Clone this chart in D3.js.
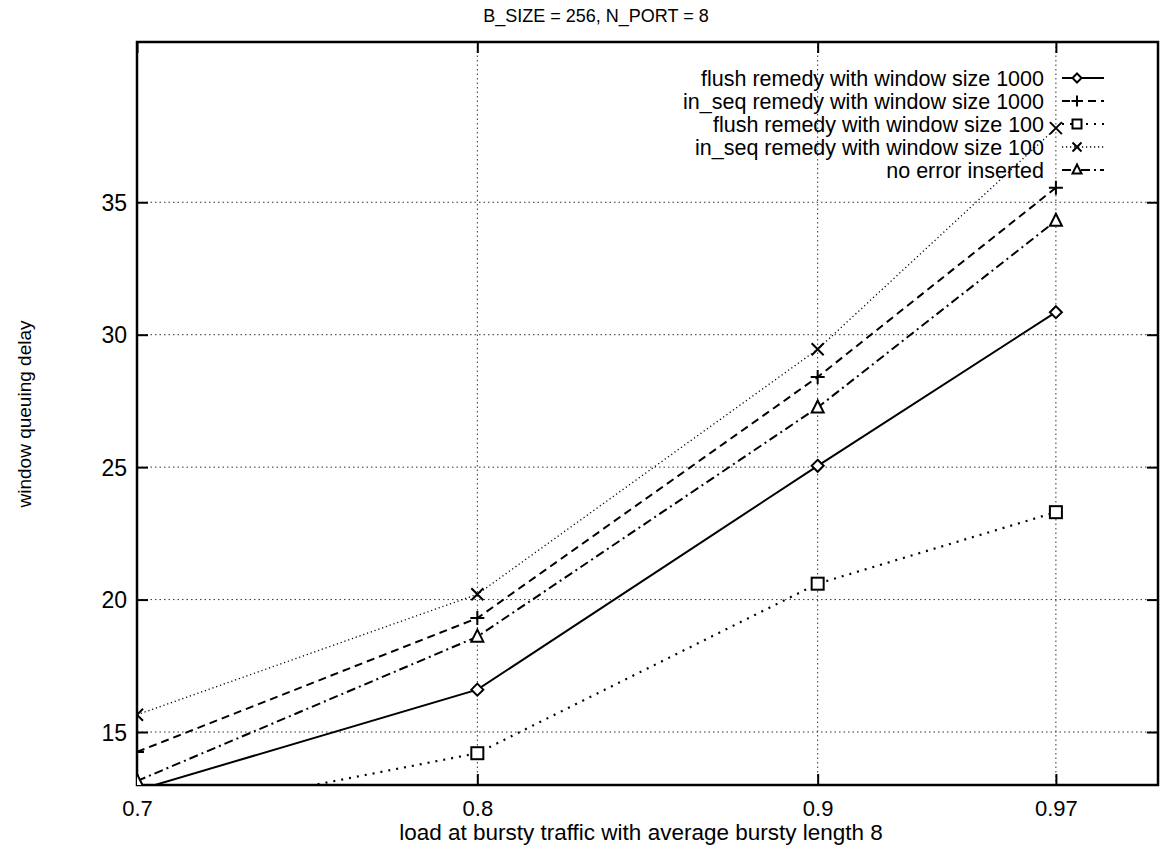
<!DOCTYPE html>
<html>
<head>
<meta charset="utf-8">
<script src="https://cdn.jsdelivr.net/npm/d3@7"></script>
<style>
  body { margin: 0; background: #fff; }
  text { font-family: "Liberation Sans", Arial, Helvetica, sans-serif; fill: #000; }
</style>
</head>
<body>
<svg id="chart" width="1160" height="852"></svg>
<script>
// load values on the x axis
const LOADS = [0.7, 0.8, 0.9, 0.97];
const X_TICKS = [0.7, 0.8, 0.9, 0.97];
const Y_TICKS = [15, 20, 25, 30, 35];

// window queuing delay, one array per curve
const FLUSH_1000 = [12.8, 16.6, 25.05, 30.85];
const INSEQ_1000 = [14.25, 19.3, 28.4, 35.55];
const FLUSH_100  = [11.7, 14.2, 20.6, 23.3];
const INSEQ_100  = [15.65, 20.2, 29.45, 37.8];
const NO_ERROR   = [13.15, 18.6, 27.25, 34.3];

const SERIES_NAMES = [
  "flush remedy with window size 1000",
  "in_seq remedy with window size 1000",
  "flush remedy with window size 100",
  "in_seq remedy with window size 100",
  "no error inserted"
];

const series = [
  { name: SERIES_NAMES[0], values: FLUSH_1000, dash: null,        width: 2,   mark: "diamond" },
  { name: SERIES_NAMES[1], values: INSEQ_1000, dash: "8,5",       width: 2,   mark: "plus" },
  { name: SERIES_NAMES[2], values: FLUSH_100,  dash: "2,6",       width: 2.2, mark: "square" },
  { name: SERIES_NAMES[3], values: INSEQ_100,  dash: "1.2,2.8",   width: 1.3, mark: "cross" },
  { name: SERIES_NAMES[4], values: NO_ERROR,   dash: "9,4,2,4",   width: 2,   mark: "triangle" }
];

const svg = d3.select("#chart");
const M = { left: 137, right: 1158, top: 42, bottom: 785 };

const x = d3.scaleLinear().domain([0.7, 1.0]).range([M.left, M.right]);
const y = d3.scaleLinear().domain([13, 41.05]).range([M.bottom, M.top]);

svg.append("defs").append("clipPath").attr("id", "plot")
  .append("rect").attr("x", M.left).attr("y", M.top)
  .attr("width", M.right - M.left).attr("height", M.bottom - M.top);

// grid
const grid = svg.append("g").attr("stroke", "#333").attr("stroke-width", 1)
  .attr("stroke-dasharray", "1.5,3");
grid.selectAll(".gy").data(Y_TICKS).enter().append("line")
  .attr("x1", M.left).attr("x2", M.right)
  .attr("y1", d => y(d)).attr("y2", d => y(d));
grid.selectAll(".gx").data(X_TICKS.slice(1)).enter().append("line")
  .attr("y1", M.top).attr("y2", M.bottom)
  .attr("x1", d => x(d)).attr("x2", d => x(d));

// frame
svg.append("rect").attr("x", M.left).attr("y", M.top)
  .attr("width", M.right - M.left).attr("height", M.bottom - M.top)
  .attr("fill", "none").attr("stroke", "#000").attr("stroke-width", 2.5);

// axes, ticks drawn inward on every side
const tick = 11;
const yAxis = d3.axisLeft(y).tickValues(Y_TICKS).tickSize(-tick).tickPadding(10).tickFormat(d3.format("d"));
const xAxis = d3.axisBottom(x).tickValues(X_TICKS).tickSize(-tick).tickPadding(15).tickFormat(d => d);
const gy = svg.append("g").attr("transform", `translate(${M.left},0)`).call(yAxis);
const gx = svg.append("g").attr("transform", `translate(0,${M.bottom})`).call(xAxis);
svg.append("g").attr("transform", `translate(${M.right},0)`)
  .call(d3.axisRight(y).tickValues(Y_TICKS).tickSize(-tick).tickFormat(""));
svg.append("g").attr("transform", `translate(0,${M.top})`)
  .call(d3.axisTop(x).tickValues(X_TICKS).tickSize(-tick).tickFormat(""));
svg.selectAll(".domain").remove();
svg.selectAll(".tick line").attr("stroke", "#000").attr("stroke-width", 2);
gy.selectAll("text").attr("font-size", 23).attr("dy", "0.35em");
gx.selectAll("text").attr("font-size", 22);

// titles
svg.append("text").attr("x", 596).attr("y", 22).attr("text-anchor", "middle")
  .attr("font-size", 18).text("B_SIZE = 256, N_PORT = 8");
svg.append("text").attr("x", 641).attr("y", 840).attr("text-anchor", "middle")
  .attr("font-size", 22.5).text("load at bursty traffic with average bursty length 8");
svg.append("text").attr("transform", "translate(31,414) rotate(-90)").attr("text-anchor", "middle")
  .attr("font-size", 19).text("window queuing delay");

function marker(sel, kind, s) {
  if (kind === "diamond") sel.append("path").attr("d", `M0,${-s}L${s},0L0,${s}L${-s},0Z`).attr("fill", "#fff");
  if (kind === "square") sel.append("rect").attr("x", -s).attr("y", -s).attr("width", 2 * s).attr("height", 2 * s).attr("fill", "#fff");
  if (kind === "plus") sel.append("path").attr("d", `M${-s - 1},0H${s + 1}M0,${-s - 1}V${s + 1}`);
  if (kind === "cross") sel.append("path").attr("d", `M${-s},${-s}L${s},${s}M${-s},${s}L${s},${-s}`);
  if (kind === "triangle") sel.append("path").attr("d", `M0,${-s - 1}L${s},${s - 1}L${-s},${s - 1}Z`).attr("fill", "#fff");
  sel.selectAll("*").attr("stroke", "#000").attr("stroke-width", 2);
}

const line = d3.line().x((d, i) => x(LOADS[i])).y(d => y(d));
const plot = svg.append("g").attr("clip-path", "url(#plot)");
series.forEach(s => {
  plot.append("path").datum(s.values).attr("d", line)
    .attr("fill", "none").attr("stroke", "#000").attr("stroke-width", s.width)
    .attr("stroke-dasharray", s.dash);
  plot.selectAll(null).data(s.values).enter().append("g")
    .attr("transform", (d, i) => `translate(${x(LOADS[i])},${y(d)})`)
    .each(function () { marker(d3.select(this), s.mark, 6); });
});

// legend
const lg = svg.append("g");
series.forEach((s, i) => {
  const yy = 78 + i * 23;
  lg.append("text").attr("x", 1044).attr("y", yy).attr("dy", "0.35em")
    .attr("text-anchor", "end").attr("font-size", 21.5).text(s.name);
  lg.append("line").attr("x1", 1062).attr("x2", 1104).attr("y1", yy).attr("y2", yy)
    .attr("stroke", "#000").attr("stroke-width", s.width).attr("stroke-dasharray", s.dash);
  lg.append("g").attr("transform", `translate(1077,${yy})`).call(g => marker(g, s.mark, 4.5));
});
</script>
</body>
</html>
